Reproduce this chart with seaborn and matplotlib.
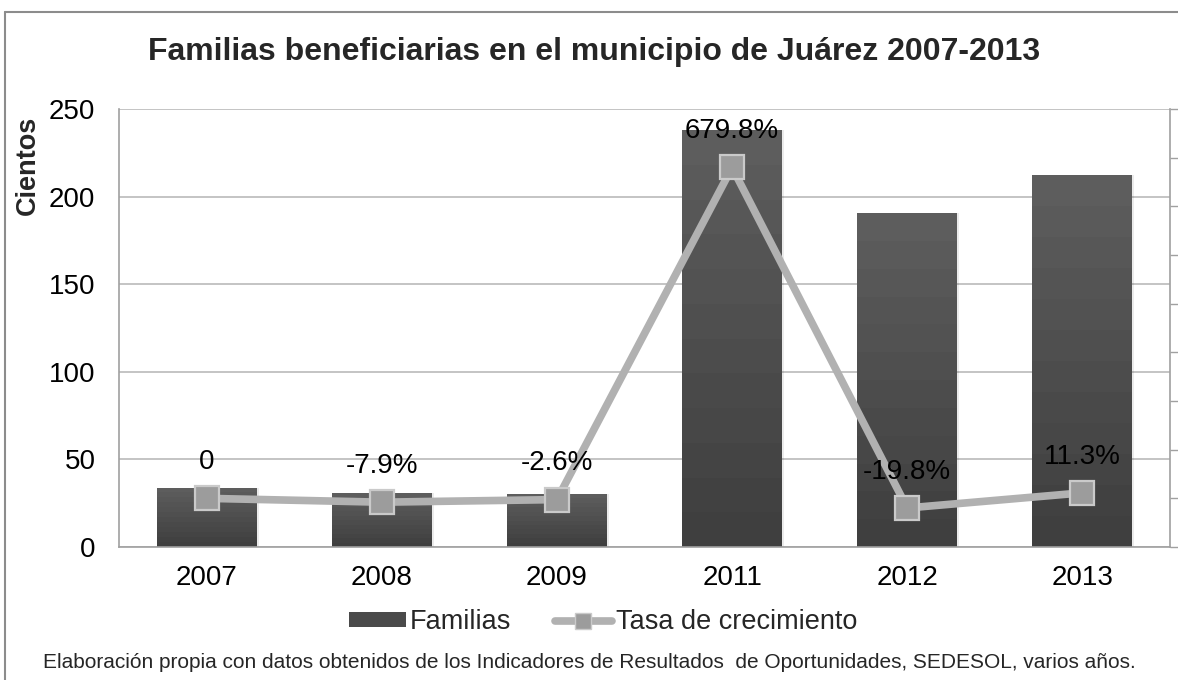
import numpy as np
import pandas as pd
import matplotlib
matplotlib.use("Agg")
import matplotlib.pyplot as plt
import seaborn as sns
from matplotlib.lines import Line2D
from matplotlib.patches import Rectangle

# ---- data ----
years = ["2007", "2008", "2009", "2011", "2012", "2013"]
familias = [33.7, 30.8, 30.2, 238.0, 190.6, 212.3]          # cientos
tasa = [0.0, -7.9, -2.6, 679.8, -19.8, 11.3]                 # %
tasa_labels = ["0", "-7.9%", "-2.6%", "679.8%", "-19.8%", "11.3%"]

title = "Familias beneficiarias en el municipio de Juárez 2007-2013"
ylabel = "Cientos"
source = ("Elaboración propia con datos obtenidos de los Indicadores de Resultados  "
          "de Oportunidades, SEDESOL, varios años.")

sns.set_theme(style="white")
plt.rcParams["font.family"] = ["Liberation Sans", "DejaVu Sans"]

W, H = 1178, 680
fig = plt.figure(figsize=(W / 100, H / 100), dpi=100)
ax = fig.add_axes([119 / W, 1 - 547 / H, (1170 - 119) / W, (547 - 109) / H])

df = pd.DataFrame({"year": years, "familias": familias, "tasa": tasa,
                   "pos": np.arange(len(years))})

sns.barplot(data=df, x="year", y="familias", ax=ax, color="#4b4b4b",
            width=0.57, saturation=1, edgecolor="none", zorder=2)
ax.set_xlim(-0.5, len(years) - 0.5)
ax.set_ylim(0, 250)
ax.set_yticks(np.arange(0, 251, 50))
ax.yaxis.grid(True, color="#b4b4b4", linewidth=1.1, zorder=0)
ax.set_axisbelow(True)

# gradient fill for bars
grad = np.linspace(0, 1, 12).reshape(-1, 1)
cmap = matplotlib.colors.LinearSegmentedColormap.from_list("g", ["#3f3f3f", "#5d5d5d"])
for p in list(ax.patches):
    x0, y0 = p.get_x(), p.get_y()
    w, h = p.get_width(), p.get_height()
    im = ax.imshow(grad, cmap=cmap, origin="lower", aspect="auto",
                   extent=[x0, x0 + w, y0, y0 + h], zorder=2.1, interpolation="nearest")
    im.set_clip_path(p)
    sh = Rectangle((x0 + 0.012, y0), w, h, facecolor="#000000", alpha=0.08,
                   edgecolor="none", zorder=1.9)
    ax.add_patch(sh)
ax.set_xlim(-0.5, len(years) - 0.5)
ax.set_ylim(0, 250)

ax.set_xlabel("")
ax.set_ylabel("")
ax.tick_params(axis="y", labelsize=20, pad=17, length=0, colors="#000000")
ax.tick_params(axis="x", labelsize=20, pad=13, length=0, colors="#000000")
for s in ["top", "right"]:
    ax.spines[s].set_visible(False)
for s in ["left", "bottom"]:
    ax.spines[s].set_color("#a0a0a0")
    ax.spines[s].set_linewidth(1.2)

# secondary axis with growth rate
ax2 = ax.twinx()
sns.lineplot(data=df, x="pos", y="tasa", ax=ax2, color="#b1b1b1", linewidth=5.5,
             marker="s", markersize=17, markerfacecolor="#9c9c9c",
             markeredgecolor="#cacaca", markeredgewidth=1.6, zorder=5)
ax2.set_ylim(-100, 800)
ax2.set_yticks(np.arange(-100, 801, 100))
ax2.set_yticklabels([])
ax2.set_ylabel("")
ax2.set_xlabel("")
ax2.tick_params(axis="y", direction="out", length=6, width=1, colors="#a0a0a0", right=True)
for s in ["top", "left", "bottom"]:
    ax2.spines[s].set_visible(False)
ax2.spines["right"].set_color("#a0a0a0")
ax2.spines["right"].set_linewidth(1.2)
ax2.set_xlim(-0.5, len(years) - 0.5)

for i, (v, lab) in enumerate(zip(tasa, tasa_labels)):
    ax2.annotate(lab, (i, v), xytext=(0, 26), textcoords="offset points",
                 ha="center", va="center", fontsize=20, color="#000000", zorder=6)

# titles and texts
fig.text(594 / W, 1 - 52 / H, title, ha="center", va="center", fontsize=23,
         fontweight="bold")
fig.text(28 / W, 1 - 165 / H, ylabel, ha="center", va="center", fontsize=19.5,
         fontweight="bold", rotation=90)
fig.text(589 / W, 1 - 662 / H, source, ha="center", va="center", fontsize=15)

# legend
handles = [Rectangle((0, 0), 1, 1, facecolor="#4a4a4a", edgecolor="none"),
           Line2D([0], [0], color="#b1b1b1", linewidth=5.5, marker="s", markersize=12,
                  markerfacecolor="#9c9c9c", markeredgecolor="#cacaca")]
fig.legend(handles, ["Familias", "Tasa de crecimiento"], loc="center",
           bbox_to_anchor=(603 / W, 1 - 622 / H), ncol=2, frameon=False,
           fontsize=19.5, handlelength=2.1, handleheight=0.45, handletextpad=0.15,
           columnspacing=1.6)

# outer border
fig.add_artist(Line2D([5 / W, 5 / W], [0, 1 - 12 / H], transform=fig.transFigure,
                      color="#8c8c8c", linewidth=1.5))
fig.add_artist(Line2D([5 / W, 1], [1 - 12 / H, 1 - 12 / H], transform=fig.transFigure,
                      color="#8c8c8c", linewidth=1.5))

fig.savefig("out.png", dpi=100)
